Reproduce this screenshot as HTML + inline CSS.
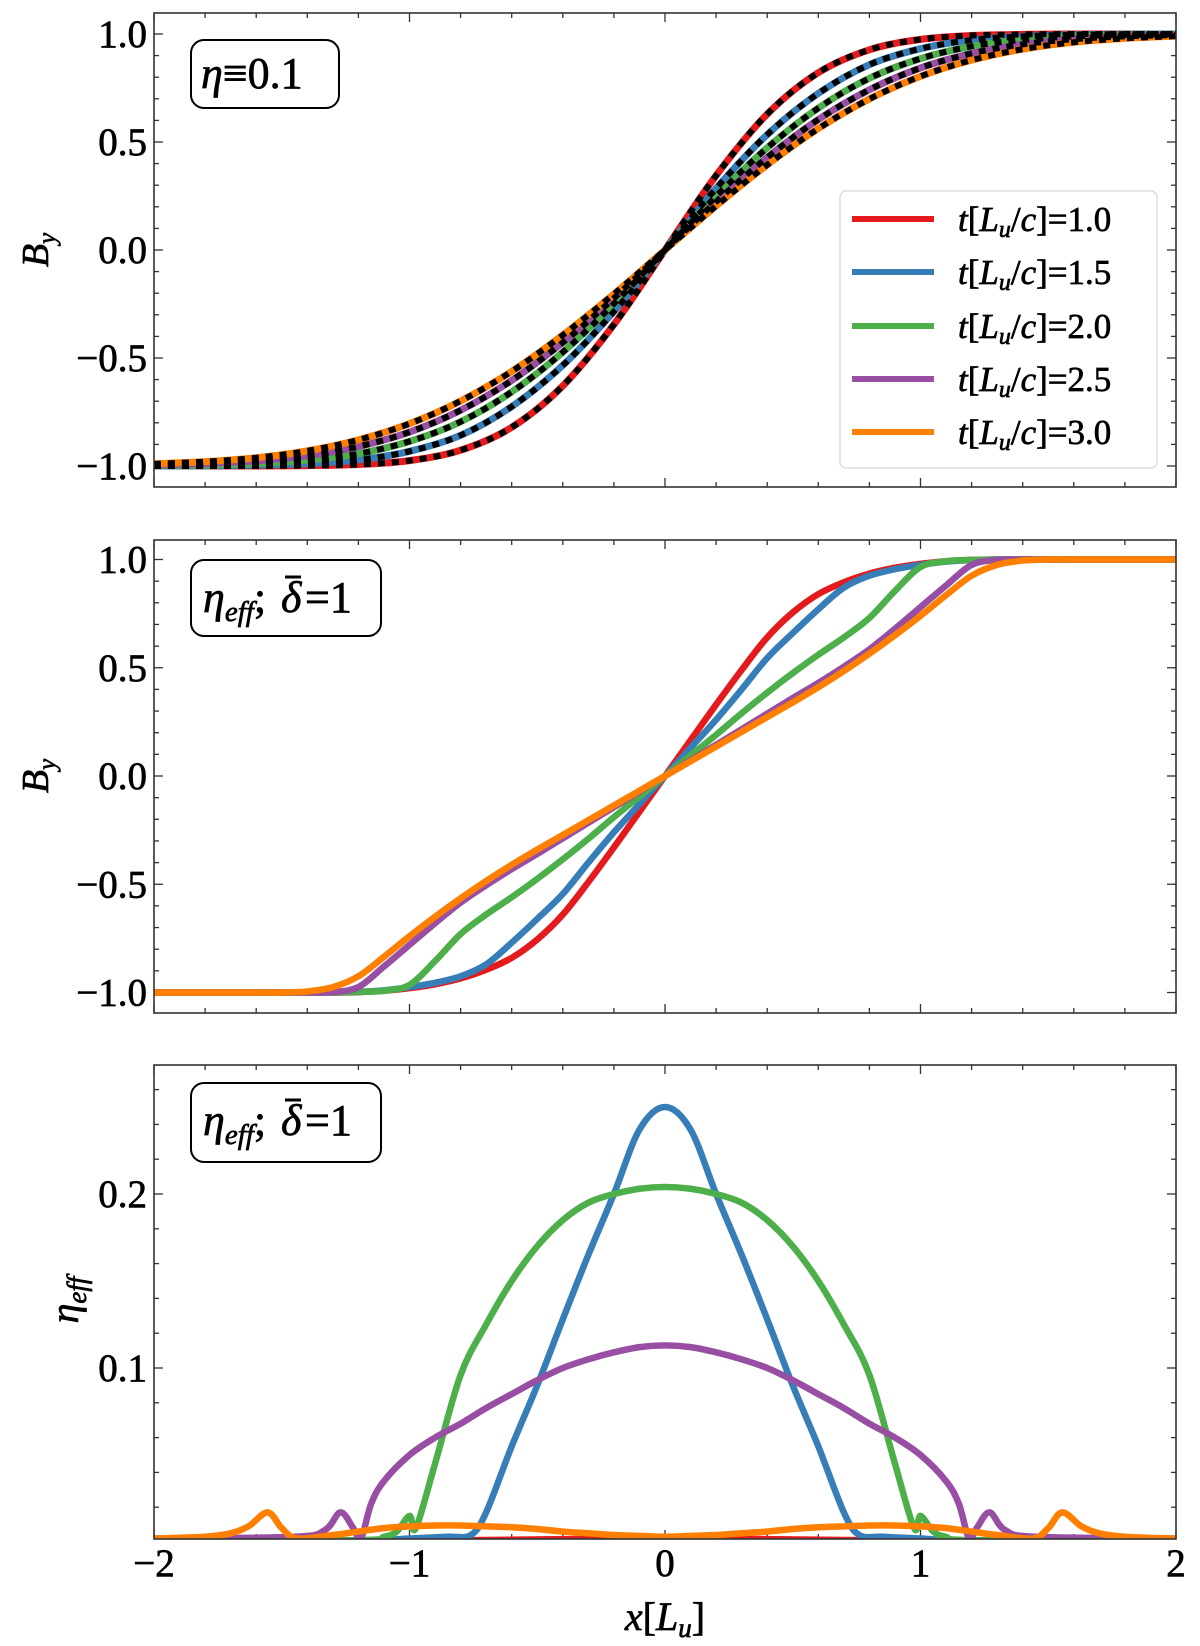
<!DOCTYPE html>
<html><head><meta charset="utf-8"><style>
html,body{margin:0;padding:0;background:#fff;}
svg{display:block;}
text{font-family:"Liberation Serif","DejaVu Serif",serif;stroke:#000;stroke-width:0.7px;}
</style></head><body>
<svg id="fig" width="1200" height="1646" viewBox="0 0 1200 1646" xmlns="http://www.w3.org/2000/svg"></svg>
<script>
// ---------- data ----------
const seriesLabels = ["t[Lu/c]=1.0","t[Lu/c]=1.5","t[Lu/c]=2.0","t[Lu/c]=2.5","t[Lu/c]=3.0"];
const colors = ["#e41a1c","#377eb8","#4daf4a","#984ea3","#ff7f00"];
const xTicks = [-2,-1,0,1,2];
const yTicksB = [-1.0,-0.5,0.0,0.5,1.0];
const yTicksEta = [0.1,0.2];

// Panel 1 (eta = 0.1)
const x1 = [-2,-1.8,-1.6,-1.4,-1.2,-1,-0.8,-0.6,-0.4,-0.2,0,0.2,0.4,0.6,0.8,1,1.2,1.4,1.6,1.8,2];
const p1_t10 = [-1,-1,-1,-.998,-.993,-.975,-.927,-.821,-.629,-.345,0,.345,.629,.821,.927,.975,.993,.998,1,1,1];
const p1_t15 = [-1,-.999,-.996,-.989,-.972,-.932,-.858,-.725,-.534,-.285,0,.285,.534,.725,.858,.932,.972,.989,.996,.999,1];
const p1_t20 = [-.998,-.996,-.989,-.973,-.943,-.886,-.795,-.657,-.473,-.249,0,.249,.473,.657,.795,.886,.943,.973,.989,.996,.998];
const p1_t25 = [-.995,-.989,-.976,-.952,-.910,-.843,-.742,-.604,-.428,-.223,0,.223,.428,.604,.742,.843,.910,.952,.976,.989,.995];
const p1_t30 = [-.990,-.980,-.962,-.930,-.879,-.804,-.699,-.562,-.394,-.204,0,.204,.394,.562,.699,.804,.879,.930,.962,.980,.990];

// Panel 2 (eta_eff, B_y)
const x2 = [-2,-1.9,-1.8,-1.7,-1.6,-1.5,-1.4,-1.3,-1.2,-1.1,-1,-0.9,-0.8,-0.7,-0.6,-0.5,-0.4,-0.3,-0.2,-0.1,0,0.1,0.2,0.3,0.4,0.5,0.6,0.7,0.8,0.9,1,1.1,1.2,1.3,1.4,1.5,1.6,1.7,1.8,1.9,2];
const p2_t10 = [-1,-1,-1,-1,-1,-1,-1,-1,-.998,-.992,-.98,-.962,-.935,-.895,-.84,-.755,-.64,-.49,-.33,-.165,0,.165,.33,.49,.64,.755,.84,.895,.935,.962,.98,.992,.998,1,1,1,1,1,1,1,1];
const p2_t15 = [-1,-1,-1,-1,-1,-1,-1,-1,-.997,-.99,-.975,-.955,-.925,-.87,-.77,-.66,-.545,-.40,-.26,-.13,0,.13,.26,.40,.545,.66,.77,.87,.925,.955,.975,.99,.997,1,1,1,1,1,1,1,1];
const p2_t20 = [-1,-1,-1,-1,-1,-1,-1,-1,-.997,-.992,-.965,-.855,-.73,-.64,-.56,-.475,-.385,-.29,-.19,-.095,0,.095,.19,.29,.385,.475,.56,.64,.73,.855,.965,.992,.997,1,1,1,1,1,1,1,1];
const p2_t25 = [-1,-1,-1,-1,-1,-1,-1,-.998,-.975,-.88,-.78,-.68,-.585,-.505,-.43,-.36,-.288,-.216,-.144,-.072,0,.072,.144,.216,.288,.36,.43,.505,.585,.68,.78,.88,.975,.998,1,1,1,1,1,1,1];
const p2_t30 = [-1,-1,-1,-1,-1,-1,-.995,-.975,-.925,-.835,-.74,-.65,-.565,-.485,-.41,-.34,-.272,-.204,-.136,-.068,0,.068,.136,.204,.272,.34,.41,.485,.565,.65,.74,.835,.925,.975,.995,1,1,1,1,1,1];

// Panel 3 (eta_eff)
const x3_t10 = [-2,-0.9,-0.8,0,0.8,0.9,2];
const p3_t10 = [0,0,0.001,0.002,0.001,0,0];
const x3_t15 = [-2,-1.2,-1.0,-0.85,-0.76,-0.7,-0.6,-0.5,-0.4,-0.3,-0.2,-0.1,0,0.1,0.2,0.3,0.4,0.5,0.6,0.7,0.76,0.85,1.0,1.2,2];
const p3_t15 = [0.001,0.001,0.002,0.003,0.004,0.017,0.055,0.09,0.128,0.165,0.2,0.237,0.25,0.237,0.2,0.165,0.128,0.09,0.055,0.017,0.004,0.003,0.002,0.001,0.001];
const x3_t20 = [-2,-1.2,-1.1,-1.05,-1.0,-0.975,-0.9,-0.8,-0.7,-0.6,-0.5,-0.4,-0.3,-0.2,-0.1,0,0.1,0.2,0.3,0.4,0.5,0.6,0.7,0.8,0.9,0.975,1.0,1.05,1.1,1.2,2];
const p3_t20 = [0,0.001,0.003,0.006,0.015,0.008,0.045,0.096,0.125,0.15,0.17,0.185,0.195,0.2,0.203,0.204,0.203,0.2,0.195,0.185,0.17,0.15,0.125,0.096,0.045,0.008,0.015,0.006,0.003,0.001,0];
const x3_t25 = [-2,-1.45,-1.33,-1.27,-1.22,-1.19,-1.15,-1.1,-1.0,-0.9,-0.8,-0.7,-0.6,-0.5,-0.4,-0.3,-0.2,-0.1,0,0.1,0.2,0.3,0.4,0.5,0.6,0.7,0.8,0.9,1.0,1.1,1.15,1.19,1.22,1.27,1.33,1.45,2];
const p3_t25 = [0.002,0.003,0.007,0.017,0.008,0.002,0.022,0.035,0.05,0.06,0.068,0.077,0.085,0.093,0.1,0.105,0.109,0.112,0.113,0.112,0.109,0.105,0.1,0.093,0.085,0.077,0.068,0.06,0.05,0.035,0.022,0.002,0.008,0.017,0.007,0.003,0.002];
const x3_t30 = [-2,-1.8,-1.7,-1.63,-1.555,-1.5,-1.44,-1.3,-1.2,-1.1,-1.0,-0.9,-0.8,-0.7,-0.6,-0.5,-0.4,-0.3,-0.2,-0.1,0,0.1,0.2,0.3,0.4,0.5,0.6,0.7,0.8,0.9,1.0,1.1,1.2,1.3,1.44,1.5,1.555,1.63,1.7,1.8,2];
const p3_t30 = [.002,.003,.005,.009,.017,.008,.002,.004,.006,.008,.009,.0095,.0095,.009,.0085,.0075,.006,.005,.004,.0035,.003,.0035,.004,.005,.006,.0075,.0085,.009,.0095,.0095,.009,.008,.006,.004,.002,.008,.017,.009,.005,.003,.002];

// ---------- layout ----------
const NS = "http://www.w3.org/2000/svg";
const svg = document.getElementById("fig");
const L = 154, R = 1176;
const X = v => L + (v + 2) * (R - L) / 4;
const panels = [
  {top:13, bottom:487, y:v => 250 - 216*v},
  {top:540, bottom:1013, y:v => 776 - 216.5*v},
  {top:1065, bottom:1539, y:v => 1542 - 1740*v}
];
function mk(tag, attrs, parent){
  const e = document.createElementNS(NS, tag);
  for (const k in attrs) e.setAttribute(k, attrs[k]);
  (parent||svg).appendChild(e);
  return e;
}
function fmt(v){ return (v<0?"\u2212":"") + Math.abs(v).toFixed(1); }

const defs = mk("defs",{});
panels.forEach((p,i)=>{
  const cp = mk("clipPath",{id:"clip"+i}, defs);
  mk("rect",{x:L,y:p.top,width:R-L,height:p.bottom-p.top}, cp);
});

function smoothPath(xs, ys, P){
  const pts = xs.map((x,i)=>[X(x), P.y(ys[i])]);
  let d = "M"+pts[0][0].toFixed(2)+","+pts[0][1].toFixed(2);
  for (let i=0;i<pts.length-1;i++){
    const p0 = pts[Math.max(0,i-1)], p1 = pts[i], p2 = pts[i+1], p3 = pts[Math.min(pts.length-1,i+2)];
    const c1 = [p1[0]+(p2[0]-p0[0])/6, p1[1]+(p2[1]-p0[1])/6];
    const c2 = [p2[0]-(p3[0]-p1[0])/6, p2[1]-(p3[1]-p1[1])/6];
    d += "C"+c1[0].toFixed(2)+","+c1[1].toFixed(2)+" "+c2[0].toFixed(2)+","+c2[1].toFixed(2)+" "+p2[0].toFixed(2)+","+p2[1].toFixed(2);
  }
  return d;
}

// ---------- axes ----------
function drawAxes(P, idx, yMajor, yMinorStep, yMin, yMax, showXLabels){
  const g = mk("g",{});
  
  
  for (let k=0;k<=20;k++){
    const v = -2 + k*0.2;
    const major = Math.abs(v - Math.round(v)) < 1e-6;
    const len = major ? 9 : 5;
    const x = X(v);
    mk("line",{x1:x,y1:P.bottom,x2:x,y2:P.bottom-len,stroke:"#333","stroke-width":1.3},g);
    mk("line",{x1:x,y1:P.top,x2:x,y2:P.top+len,stroke:"#333","stroke-width":1.3},g);
  }
  const n0 = Math.ceil(yMin / yMinorStep - 1e-6), n1 = Math.floor(yMax / yMinorStep + 1e-6);
  for (let n=n0;n<=n1;n++){
    const v = n*yMinorStep;
    const major = yMajor.some(m=>Math.abs(m-v)<1e-6);
    const len = major ? 9 : 5;
    const y = P.y(v);
    if (y < P.top+1 || y > P.bottom-1) continue;
    mk("line",{x1:L,y1:y,x2:L+len,y2:y,stroke:"#333","stroke-width":1.3},g);
    mk("line",{x1:R,y1:y,x2:R-len,y2:y,stroke:"#333","stroke-width":1.3},g);
  }
  yMajor.forEach(v=>{
    const t = mk("text",{x:147,y:P.y(v)+13,"text-anchor":"end","font-size":39,fill:"#000"},g);
    t.textContent = (idx===2) ? v.toFixed(1) : fmt(v);
    
    
  });
  if (showXLabels){
    xTicks.forEach(v=>{
      const t = mk("text",{x:X(v),y:1576,"text-anchor":"middle","font-size":39,fill:"#000"},g);
      t.textContent = (v<0?"\u2212":"") + Math.abs(v);
      
      
    });
  }
}

function frame(P, idx){
  const r = mk("rect",{x:L,y:P.top,width:R-L,height:P.bottom-P.top,fill:"none",stroke:"#333","stroke-width":1.6});
  
  
}

// ---------- panel 1 ----------
const P1 = panels[0];
drawAxes(P1, 0, yTicksB, 0.1, -1.1, 1.1, false);
const p1Series = [p1_t10,p1_t15,p1_t20,p1_t25,p1_t30];
const g1 = mk("g",{"clip-path":"url(#clip0)"});
p1Series.forEach((ys,i)=>{
  const path = mk("path",{d:smoothPath(x1,ys,P1),fill:"none",stroke:colors[i],"stroke-width":7,"stroke-linejoin":"round"},g1);
  
  
});
p1Series.forEach((ys,i)=>{
  const path = mk("path",{d:smoothPath(x1,ys,P1),fill:"none",stroke:"#000","stroke-width":6,"stroke-dasharray":"7 7"},g1);
  
  
});
frame(P1,0);

// ---------- panel 2 ----------
const P2 = panels[1];
drawAxes(P2, 1, yTicksB, 0.1, -1.1, 1.1, false);
const p2Series = [p2_t10,p2_t15,p2_t20,p2_t25,p2_t30];
const g2 = mk("g",{"clip-path":"url(#clip1)"});
p2Series.forEach((ys,i)=>{
  const path = mk("path",{d:smoothPath(x2,ys,P2),fill:"none",stroke:colors[i],"stroke-width":6.5,"stroke-linejoin":"round"},g2);
  
  
});
frame(P2,1);

// ---------- panel 3 ----------
const P3 = panels[2];
drawAxes(P3, 2, yTicksEta, 0.02, 0, 0.28, true);
const p3X = [x3_t10,x3_t15,x3_t20,x3_t25,x3_t30];
const p3Y = [p3_t10,p3_t15,p3_t20,p3_t25,p3_t30];
const g3 = mk("g",{"clip-path":"url(#clip2)"});
p3Y.forEach((ys,i)=>{
  const path = mk("path",{d:smoothPath(p3X[i],ys,P3),fill:"none",stroke:colors[i],"stroke-width":6.5,"stroke-linejoin":"round"},g3);
  
  
});
frame(P3,2);
</script>
<svg style="position:absolute;left:0;top:0" width="1200" height="1646" xmlns="http://www.w3.org/2000/svg">
  <g>
    <rect x="191" y="40" width="148" height="68" rx="13" fill="#fff" stroke="#000" stroke-width="2"/>
    <text x="201" y="88" font-size="44"><tspan font-style="italic">η</tspan>≡0.1</text>
  </g>
  <g>
    <rect x="191" y="560" width="190" height="76" rx="13" fill="#fff" stroke="#000" stroke-width="2"/>
    <text x="203" y="612" font-size="44"><tspan font-style="italic">η</tspan><tspan font-style="italic" font-size="29" dy="9">eff</tspan><tspan dy="-9">;</tspan></text>
    <text x="281" y="612" font-size="44" font-style="italic">δ</text>
    <line x1="285" y1="577" x2="301" y2="577" stroke="#000" stroke-width="3"/>
    <text x="305" y="612" font-size="44">=1</text>
  </g>
  <g>
    <rect x="191" y="1083" width="190" height="79" rx="13" fill="#fff" stroke="#000" stroke-width="2"/>
    <text x="203" y="1135" font-size="44"><tspan font-style="italic">η</tspan><tspan font-style="italic" font-size="29" dy="9">eff</tspan><tspan dy="-9">;</tspan></text>
    <text x="281" y="1135" font-size="44" font-style="italic">δ</text>
    <line x1="285" y1="1100" x2="301" y2="1100" stroke="#000" stroke-width="3"/>
    <text x="305" y="1135" font-size="44">=1</text>
  </g>
  <g>
    <rect x="840" y="191" width="317" height="277" rx="6" fill="#fff" fill-opacity="0.85" stroke="#ddd" stroke-width="1.5"/>
    <g><line x1="852" y1="219" x2="934" y2="219" stroke="#e41a1c" stroke-width="6"/><text x="958" y="231" font-size="35"><tspan font-style="italic">t</tspan>[<tspan font-style="italic">L</tspan><tspan font-style="italic" font-size="24" dy="6">u</tspan><tspan dy="-6">/</tspan><tspan font-style="italic">c</tspan>]=1.0</text></g>
    <g><line x1="852" y1="272" x2="934" y2="272" stroke="#377eb8" stroke-width="6"/><text x="958" y="284" font-size="35"><tspan font-style="italic">t</tspan>[<tspan font-style="italic">L</tspan><tspan font-style="italic" font-size="24" dy="6">u</tspan><tspan dy="-6">/</tspan><tspan font-style="italic">c</tspan>]=1.5</text></g>
    <g><line x1="852" y1="326" x2="934" y2="326" stroke="#4daf4a" stroke-width="6"/><text x="958" y="338" font-size="35"><tspan font-style="italic">t</tspan>[<tspan font-style="italic">L</tspan><tspan font-style="italic" font-size="24" dy="6">u</tspan><tspan dy="-6">/</tspan><tspan font-style="italic">c</tspan>]=2.0</text></g>
    <g><line x1="852" y1="379" x2="934" y2="379" stroke="#984ea3" stroke-width="6"/><text x="958" y="391" font-size="35"><tspan font-style="italic">t</tspan>[<tspan font-style="italic">L</tspan><tspan font-style="italic" font-size="24" dy="6">u</tspan><tspan dy="-6">/</tspan><tspan font-style="italic">c</tspan>]=2.5</text></g>
    <g><line x1="852" y1="432" x2="934" y2="432" stroke="#ff7f00" stroke-width="6"/><text x="958" y="444" font-size="35"><tspan font-style="italic">t</tspan>[<tspan font-style="italic">L</tspan><tspan font-style="italic" font-size="24" dy="6">u</tspan><tspan dy="-6">/</tspan><tspan font-style="italic">c</tspan>]=3.0</text></g>
  </g>
  <text transform="translate(48,250) rotate(-90)" text-anchor="middle" font-size="38" font-style="italic">B<tspan font-size="25" dy="7">y</tspan></text>
  <text transform="translate(48,776) rotate(-90)" text-anchor="middle" font-size="38" font-style="italic">B<tspan font-size="25" dy="7">y</tspan></text>
  <text transform="translate(78,1300) rotate(-90)" text-anchor="middle" font-size="40" font-style="italic">η<tspan font-size="27" dy="8">eff</tspan></text>
  <text x="665" y="1630" text-anchor="middle" font-size="40"><tspan font-style="italic">x</tspan>[<tspan font-style="italic">L</tspan><tspan font-style="italic" font-size="27" dy="7">u</tspan><tspan dy="-7">]</tspan></text>
</svg>
</body></html>
